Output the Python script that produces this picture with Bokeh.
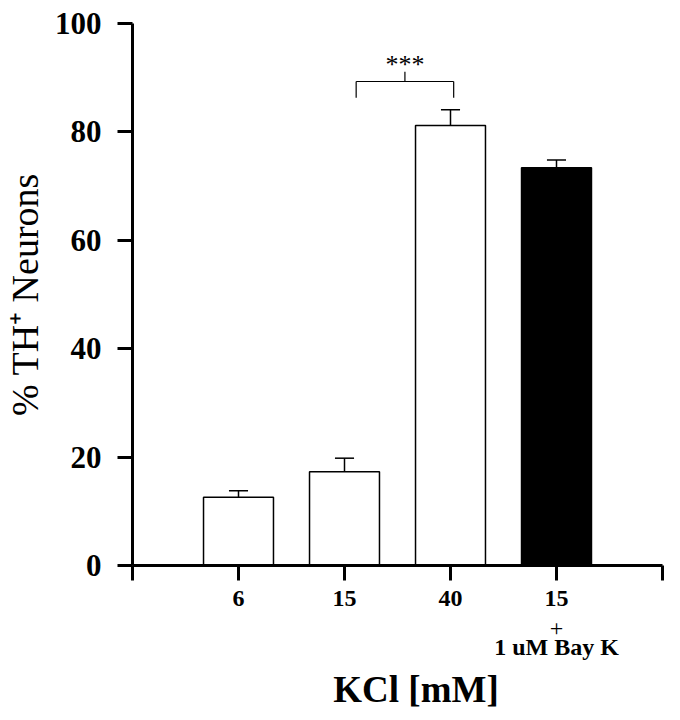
from bokeh.plotting import figure
from bokeh.models import Label, FixedTicker, Range1d, LinearAxis
from bokeh.embed import file_html
from bokeh.resources import INLINE

# data
categories = ["6", "15", "40", "15"]
positions = [1, 2, 3, 4]
values = [12.6, 17.3, 81.2, 73.4]
errors = [1.2, 2.5, 2.9, 1.4]
colors = ["white", "white", "white", "black"]
y_ticks = [0, 20, 40, 60, 80, 100]
sub_label_plus = "+"
sub_label_drug = "1 uM Bay K"

FONT = "Liberation Serif"

p = figure(width=664, height=712, output_backend="svg", toolbar_location=None,
           x_range=Range1d(0, 5), y_range=Range1d(0, 100),
           min_border_left=130, min_border_right=2, min_border_top=23,
           min_border_bottom=20)
p.outline_line_color = None
p.grid.visible = False

p.vbar(x=positions, top=values, width=0.66, fill_color=colors,
       line_color="black", line_width=1.5)

# error bars (upper only)
tops = [v + e for v, e in zip(values, errors)]
p.segment(x0=positions, y0=values, x1=positions, y1=tops, line_color="black", line_width=1.5)
p.segment(x0=[x - 0.09 for x in positions], y0=tops, x1=[x + 0.09 for x in positions], y1=tops,
          line_color="black", line_width=1.5)

# significance bracket
bx0, bx1, by, bdrop, btick = 2.11, 3.03, 89.3, 3.0, 1.8
p.segment(x0=[bx0, bx0, bx1, (bx0 + bx1) / 2], y0=[by, by, by, by],
          x1=[bx1, bx0, bx1, (bx0 + bx1) / 2], y1=[by, by - bdrop, by - bdrop, by + btick],
          line_color="black", line_width=1.2)
p.add_layout(Label(x=(bx0 + bx1) / 2, y=by + 3.2, text="***", text_font=FONT,
                   text_font_size="26px", text_color="black",
                   text_align="center", text_baseline="middle"))

# axes
p.yaxis.ticker = FixedTicker(ticks=y_ticks)
p.xaxis.ticker = FixedTicker(ticks=[0, 1, 2, 3, 4, 5])
p.xaxis.major_label_overrides = {0: "", 1: categories[0], 2: categories[1],
                                 3: categories[2], 4: categories[3], 5: ""}
for ax in (p.xaxis, p.yaxis):
    ax.axis_line_width = 3
    ax.major_tick_line_width = 3
    ax.major_tick_out = 15
    ax.major_tick_in = 0
    ax.minor_tick_line_color = None
    ax.major_label_text_font = FONT
    ax.major_label_text_font_style = "bold"
    ax.major_label_text_color = "black"
    ax.axis_line_color = "black"
    ax.major_tick_line_color = "black"

p.yaxis.major_label_text_font_size = "31px"
p.yaxis.major_label_standoff = 16
p.xaxis.major_label_text_font_size = "24px"
p.xaxis.major_label_standoff = 10

p.yaxis.axis_label = "% TH\u207a Neurons"
p.yaxis.axis_label_text_font = FONT
p.yaxis.axis_label_text_font_style = "normal"
p.yaxis.axis_label_text_font_size = "38px"
p.yaxis.axis_label_text_color = "black"
p.yaxis.axis_label_standoff = 6


def sub_axis(text, size, standoff, label=None):
    ax = LinearAxis(ticker=FixedTicker(ticks=[4]), major_label_overrides={4: text})
    ax.axis_line_color = None
    ax.major_tick_line_color = None
    ax.minor_tick_line_color = None
    ax.major_tick_out = 0
    ax.major_tick_in = 0
    ax.major_label_text_font = FONT
    ax.major_label_text_font_style = "normal"
    ax.major_label_text_font_size = size
    ax.major_label_text_color = "black"
    ax.major_label_standoff = standoff
    if label:
        ax.major_label_text_font_style = "bold"
        ax.axis_label = label
        ax.axis_label_text_font = FONT
        ax.axis_label_text_font_style = "bold"
        ax.axis_label_text_font_size = "37px"
        ax.axis_label_text_color = "black"
        ax.axis_label_standoff = 6
    return ax


p.add_layout(sub_axis(sub_label_plus, "24px", 12), "below")
p.add_layout(sub_axis(sub_label_drug, "24px", -5, "\u00a0\u00a0\u00a0\u00a0KCl [mM]"), "below")

open("out.html", "w").write(file_html(p, INLINE))
